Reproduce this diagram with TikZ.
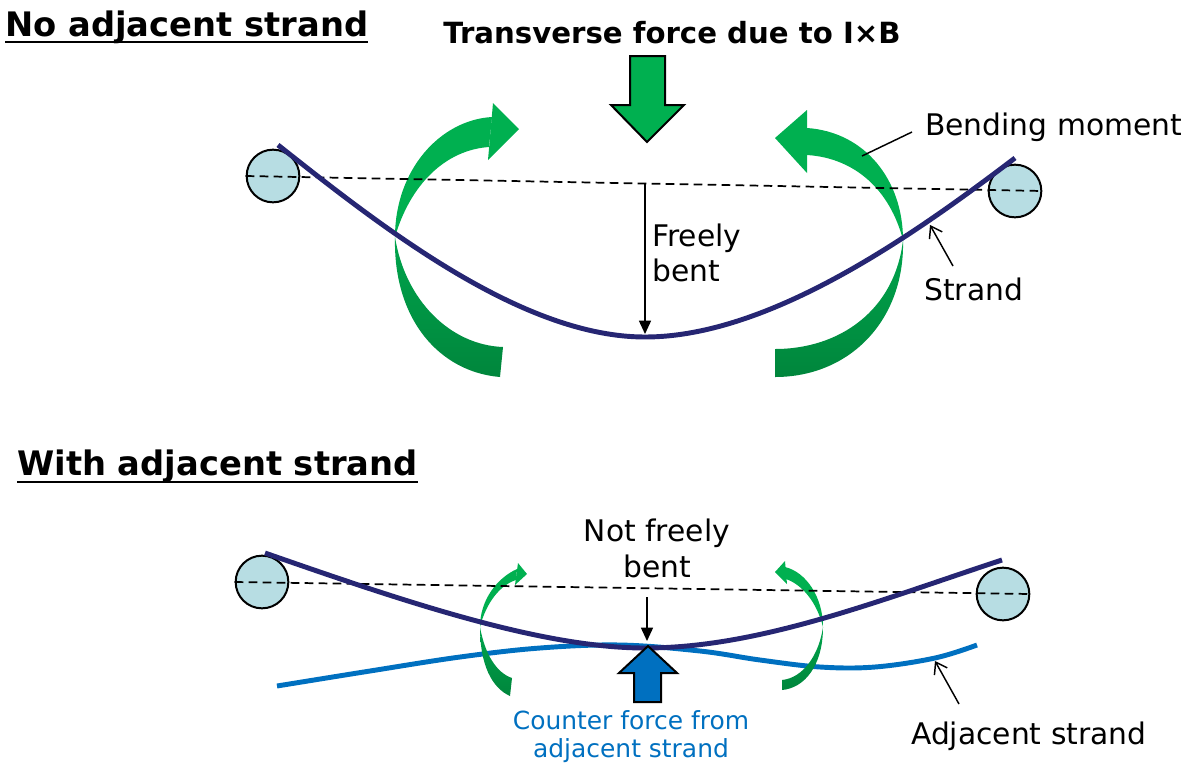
\documentclass[tikz,border=0pt]{standalone}
\usepackage{fontspec}
\setmainfont{DejaVu Sans}
\usetikzlibrary{arrows.meta}
\definecolor{navy}{RGB}{38,38,115}
\definecolor{gl}{HTML}{00B050}
\definecolor{gd}{HTML}{00863C}
\definecolor{gm}{HTML}{00A44C}
\definecolor{cb}{HTML}{B7DDE3}
\definecolor{adj}{HTML}{0070C0}
\begin{document}
\begin{tikzpicture}[x=0.75pt,y=-0.75pt,
 roll/.style={circle,draw=black,line width=1.5pt,fill=cb,minimum size=39.5pt,inner sep=0pt},
 axisline/.style={line width=1.3pt,dash pattern=on 6.5pt off 4pt},
 strandline/.style={navy,line width=3.7pt},
 adjline/.style={adj,line width=3.7pt},
 title/.style={font=\fontsize{25.3}{30}\selectfont\bfseries,anchor=base west,inner sep=0pt},
 lbl/.style={font=\fontsize{22.3}{27}\selectfont,inner sep=0pt},
 leader/.style={line width=1.1pt,-{Straight Barb[length=8pt,width=11pt]}},
 dimarrow/.style={line width=1.1pt,-{Triangle[length=10pt,width=9pt]}},
 upart/.style={fill=gl},
 lpart/.style={top color=gm,bottom color=gd},
]
\useasboundingbox (0,0) rectangle (1200,765);

% ---------------- titles ----------------
\node[title] (t1) at (5,36) {No adjacent strand};
\draw[line width=1.5pt] ([yshift=-4.5pt]t1.base west) -- ([yshift=-4.5pt]t1.base east);
\node[font=\fontsize{21.9}{26}\selectfont\bfseries,anchor=base west,inner sep=0pt] (t2) at (443,43) {Transverse force due to I×B};
\node[title] (t3) at (17,475) {With adjacent strand};
\draw[line width=1.5pt] ([yshift=-5.5pt]t3.base west) -- ([yshift=-5.5pt]t3.base east);

% ---------------- top: transverse force arrow ----------------
\draw[line width=1.5pt,fill=gl,line join=miter]
  (630,56) -- (665,56) -- (665,105) -- (684,105) -- (647,142) -- (611,105) -- (630,105) -- cycle;

% ---------------- top: bending moment arrows ----------------
% left
\shade[lpart] (395,237) .. controls (393,320) and (440,372) .. (500,377)
  -- (503,347) .. controls (450,345) and (405,300) .. (395,237) -- cycle;
\fill[upart] (395,237) .. controls (395,170) and (440,120) .. (492,117)
  -- (489,147) .. controls (445,150) and (410,185) .. (395,237) -- cycle;
\fill[upart] (519,129) -- (493,103) -- (488,160) -- cycle;
% right
\shade[lpart] (903,240) .. controls (905,320) and (850,377) .. (775,377)
  -- (775,349) .. controls (840,349) and (895,310) .. (903,240) -- cycle;
\fill[upart] (903,240) .. controls (903,180) and (865,132) .. (807,128)
  -- (807,155) .. controls (855,158) and (890,190) .. (903,240) -- cycle;
\fill[upart] (775,138) -- (807,110) -- (807,173) -- cycle;

% ---------------- top: rollers, axis, strand ----------------
\node[roll] (c1) at (273,176) {};
\node[roll] (c2) at (1015,191) {};
\draw[axisline] (c1.west) -- (c2.east);
\draw[strandline] (278,145) .. controls (378,224) and (520,337) .. (645,337)
  .. controls (770,337) and (915,234) .. (1015,158);

\coordinate (fbTop) at (645,183);
\coordinate (fbBot) at (645,334);
\draw[dimarrow] (fbTop) -- (fbBot);
\node[lbl,anchor=base west] (fb1) at (652,246) {Freely};
\node[lbl,anchor=base west] (fb2) at (652,281) {bent};

\node[lbl,anchor=base west] (bm) at (925,135) {Bending moment};
\coordinate (bmA) at (912,132);
\coordinate (bmB) at (862,156);
\draw[line width=1.1pt] (bmA) -- (bmB);

\node[lbl,anchor=base west] (st) at (924,300) {Strand};
\coordinate (stA) at (953,266);
\coordinate (stB) at (930,225);
\draw[leader] (stA) -- (stB);

% ---------------- bottom ----------------
\draw[adjline] plot[smooth,tension=0.6] coordinates {(277,686) (370,671) (460,657) (540,648) (620,645) (700,651) (760,660) (820,667) (875,667) (935,658) (977,645)};

% small moment arrows
\shade[lpart] (480,627) .. controls (480,665) and (492,688) .. (510,696)
  -- (512,678) .. controls (497,673) and (485,655) .. (480,627) -- cycle;
\fill[upart] (480,627) .. controls (480,600) and (497,578) .. (517,569)
  -- (516,580) .. controls (500,585) and (486,603) .. (480,627) -- cycle;
\fill[upart] (527,574) -- (518,563) -- (515,585) -- cycle;

\shade[lpart] (823,627) .. controls (823,665) and (805,688) .. (782,690)
  -- (782,680) .. controls (803,678) and (819,655) .. (823,627) -- cycle;
\fill[upart] (823,627) .. controls (823,597) and (806,572) .. (785,567)
  -- (786,579) .. controls (803,585) and (817,603) .. (823,627) -- cycle;
\fill[upart] (775,572) -- (785,561) -- (787,584) -- cycle;

\node[roll] (c3) at (262,582) {};
\node[roll] (c4) at (1003,594) {};
\draw[axisline] (c3.west) -- (c4.east);
\draw[strandline] (265,553) .. controls (400,600) and (540,648) .. (645,648)
  .. controls (760,648) and (880,600) .. (1002,560);

% counter force arrow
\draw[line width=1.5pt,fill=adj,line join=miter]
  (648,646) -- (677,673) -- (661,673) -- (661,702) -- (634,702) -- (634,673) -- (619,673) -- cycle;

\node[lbl,anchor=base] (nf1) at (657,541) {Not freely};
\node[lbl,anchor=base] (nf2) at (657,577) {bent};
\coordinate (nfTop) at (647,597);
\coordinate (nfBot) at (647,641);
\draw[dimarrow] (nfTop) -- (nfBot);

\node[font=\fontsize{18.7}{22}\selectfont,text=adj,anchor=base,inner sep=0pt] (cf1) at (631,729) {Counter force from};
\node[font=\fontsize{18.7}{22}\selectfont,text=adj,anchor=base,inner sep=0pt] (cf2) at (631,757) {adjacent strand};

\node[lbl,anchor=base west] (as) at (911,744) {Adjacent strand};
\coordinate (asA) at (959,704);
\coordinate (asB) at (935,661);
\draw[leader] (asA) -- (asB);
\end{tikzpicture}
\end{document}
